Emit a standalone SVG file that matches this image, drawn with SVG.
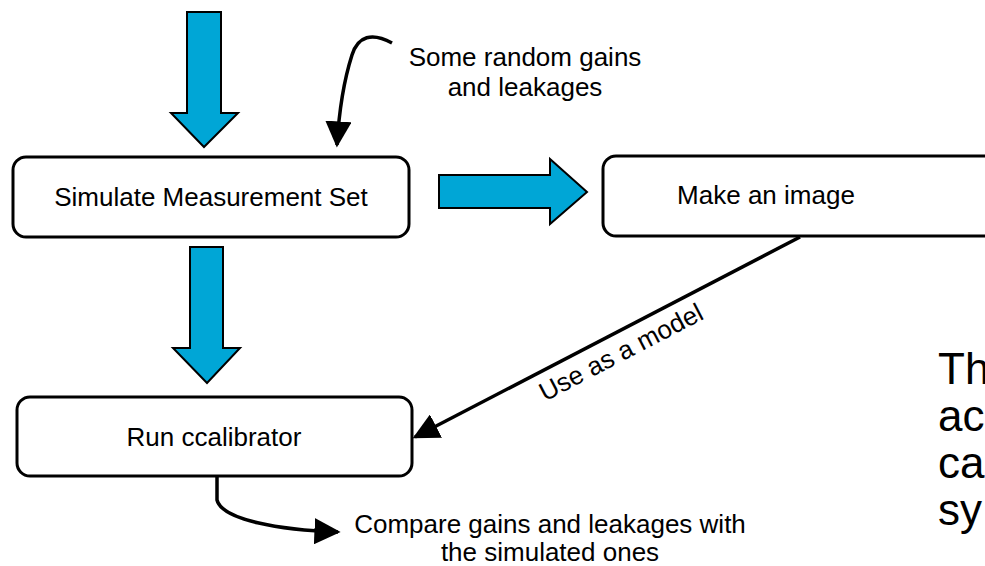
<svg xmlns="http://www.w3.org/2000/svg" width="985" height="566" viewBox="0 0 985 566">
<defs>
<style>
.box{fill:#fff;stroke:#000;stroke-width:3}
.blk{fill:#00a6d6;stroke:#000;stroke-width:2;stroke-linejoin:miter}
.t{font-family:"Liberation Sans",Arial,sans-serif;font-size:26px;fill:#000}
.c{stroke:#000;stroke-width:3.5;fill:none}
.big{font-family:"Liberation Sans",Arial,sans-serif;font-size:44px;fill:#000}
</style>
<marker id="ah" viewBox="0 0 10 10" refX="9" refY="5" markerWidth="7.5" markerHeight="7.5" markerUnits="strokeWidth" orient="auto">
<path d="M0,0 L10,5 L0,10 z" fill="#000"/>
</marker>
</defs>
<rect width="985" height="566" fill="#fff"/>
<g id="connectors">
<polygon class="blk" points="187,12 221,12 221,113 238,113 204,147 171,113 187,113"/>
<polygon class="blk" points="190,247 223,247 223,348 240,348 207,383 173,348 190,348"/>
<polygon class="blk" points="439,175 550,175 550,159 587,192 550,224 550,208 439,208"/>
<path class="c" d="M392,43 C372,32 358,36 352,55 C344,80 339,112 337,145" marker-end="url(#ah)"/>
<path class="c" d="M800,237 L415,437" marker-end="url(#ah)"/>
<path class="c" d="M217,476 L217,500 C222,520 280,530 338,532" marker-end="url(#ah)"/>
<text class="t" transform="translate(625,360) rotate(-27.5)" text-anchor="middle">Use as a model</text>
</g>
<g id="simulate">
<rect class="box" x="13" y="157" width="396" height="80" rx="13"/>
<text class="t" x="211" y="206" text-anchor="middle">Simulate Measurement Set</text>
</g>
<g id="image">
<rect class="box" x="603" y="156" width="420" height="80" rx="13"/>
<text class="t" x="766" y="204" text-anchor="middle">Make an image</text>
</g>
<g id="ccal">
<rect class="box" x="17" y="397" width="395" height="79" rx="13"/>
<text class="t" x="214" y="446" text-anchor="middle">Run ccalibrator</text>
</g>
<g id="note-gains">
<text class="t" x="525" y="66" text-anchor="middle">Some random gains</text>
<text class="t" x="525" y="96" text-anchor="middle">and leakages</text>
</g>
<g id="note-compare">
<text class="t" x="550" y="533" text-anchor="middle">Compare gains and leakages with</text>
<text class="t" x="550" y="561" text-anchor="middle">the simulated ones</text>
</g>
<g id="side-text">
<text class="big" x="938" y="384">Th</text>
<text class="big" x="938" y="431">ac</text>
<text class="big" x="938" y="478">ca</text>
<text class="big" x="938" y="525">sy</text>
</g>
</svg>
